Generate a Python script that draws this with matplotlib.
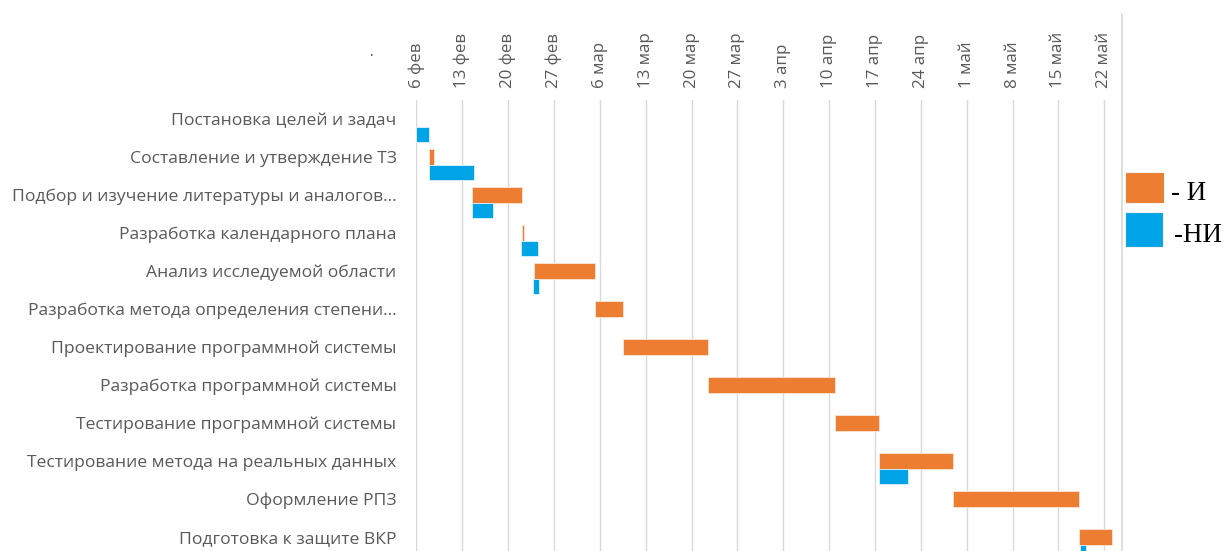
import matplotlib
matplotlib.use("Agg")
import matplotlib.pyplot as plt
import matplotlib.dates as mdates
from matplotlib.lines import Line2D
from matplotlib.patches import Rectangle
import pandas as pd

# Project stages
tasks = [
    "Постановка целей и задач",
    "Составление и утверждение ТЗ",
    "Подбор и изучение литературы и аналогов...",
    "Разработка календарного плана",
    "Анализ исследуемой области",
    "Разработка метода определения степени...",
    "Проектирование программной системы",
    "Разработка программной системы",
    "Тестирование программной системы",
    "Тестирование метода на реальных данных",
    "Оформление РПЗ",
    "Подготовка к защите ВКР",
]

# "И" series: start dates and durations (days); None = no bar
i_start = [None, "2017-02-08 00:00", "2017-02-14 12:00", "2017-02-22 02:00",
           "2017-02-24 00:00", "2017-03-05 06:30", "2017-03-09 13:00",
           "2017-03-22 14:00", "2017-04-10 22:00", "2017-04-17 13:30",
           "2017-04-28 20:30", "2017-05-18 02:30"]
i_days = [0, 0.66, 7.63, 0.37, 9.26, 4.28, 13.05, 19.3, 6.66, 11.3, 19.25, 5.0]

# "НИ" series
ni_start = ["2017-02-06 00:00", "2017-02-08 00:00", "2017-02-14 12:00",
            "2017-02-21 22:00", "2017-02-23 20:40", None, None, None, None,
            "2017-04-17 13:30", None, "2017-05-18 07:00"]
ni_days = [2.0, 6.86, 3.15, 2.59, 0.81, 0, 0, 0, 0, 4.45, 0, 0.9]

month_abbr = {1: "янв", 2: "фев", 3: "мар", 4: "апр", 5: "май", 6: "июн"}
legend_labels = ["- И", "-НИ"]

ORANGE = "#ED7D31"
BLUE = "#00A3E6"
GREY = "#595959"

W, H = 1225, 551
fig = plt.figure(figsize=(W / 100, H / 100), dpi=100)
plt.rcParams["font.family"] = ["Open Sans", "DejaVu Sans"]

# axes box in pixels: left 416, right 1122, top 100, bottom 556 (below the edge)
ax = fig.add_axes([416 / W, (H - 556) / H, (1122 - 416) / W, 456 / H])

rows = list(range(len(tasks)))
bh = 0.41

def bars(starts, days, offset, color, label):
    ys, lefts, widths = [], [], []
    for r, s, d in zip(rows, starts, days):
        if s is None or d <= 0:
            continue
        ys.append(r + offset)
        lefts.append(mdates.date2num(pd.Timestamp(s)))
        widths.append(d)
    return ax.barh(ys, widths, left=lefts, height=bh, color=color,
                   edgecolor="#FCE4D6" if color == ORANGE else "#DDF3FC",
                   linewidth=0.6, label=label, zorder=3)

b_i = bars(i_start, i_days, 0.0, ORANGE, legend_labels[0])
b_ni = bars(ni_start, ni_days, bh, BLUE, legend_labels[1])

ax.set_ylim(len(tasks) - 0.5, -0.5)
ax.set_yticks(rows)
ax.set_yticklabels(tasks, fontsize=12.6, color=GREY)

x0 = mdates.date2num(pd.Timestamp("2017-02-06")) - 0.05
x1 = x0 + (1122 - 416) / 6.552
ax.set_xlim(x0, x1)
ax.xaxis.set_major_locator(mdates.WeekdayLocator(byweekday=mdates.MO))
ax.xaxis.set_major_formatter(
    plt.FuncFormatter(lambda v, p: f"{mdates.num2date(v).day} {month_abbr[mdates.num2date(v).month]}"))
ax.xaxis.tick_top()
ax.tick_params(axis="x", length=0, pad=9, labelsize=12.2, labelcolor=GREY,
               labelrotation=90)
ax.tick_params(axis="y", length=0, pad=14)
ax.grid(axis="x", color="#D9D9D9", linewidth=1.0, zorder=0)
ax.set_axisbelow(True)
for s in ax.spines.values():
    s.set_visible(False)

# stray title mark
fig.text(372 / W, 1 - 53 / H, ".", fontsize=10, color="#404040",
         ha="center", va="center")

# chart frame edge on the right
fig.add_artist(Line2D([1122 / W, 1122 / W], [0, 1 - 14 / H],
                      color="#D9D9D9", linewidth=1.2))

# legend keys drawn in figure pixels
def px_rect(x, y_top, w, h, color):
    fig.add_artist(Rectangle((x / W, 1 - (y_top + h) / H), w / W, h / H,
                             transform=fig.transFigure, facecolor=color,
                             edgecolor="#F2F2F2", linewidth=0.8))

px_rect(1125, 172, 39, 30.5, ORANGE)
px_rect(1125, 212, 38, 35, BLUE)
fig.text(1171 / W, 1 - 200 / H, legend_labels[0], family="Liberation Serif",
         fontsize=19.5, color="black", ha="left", va="baseline")
fig.text(1174 / W, 1 - 241.5 / H, legend_labels[1], family="Liberation Serif",
         fontsize=19.5, color="black", ha="left", va="baseline")

fig.savefig("out.png", dpi=100)
